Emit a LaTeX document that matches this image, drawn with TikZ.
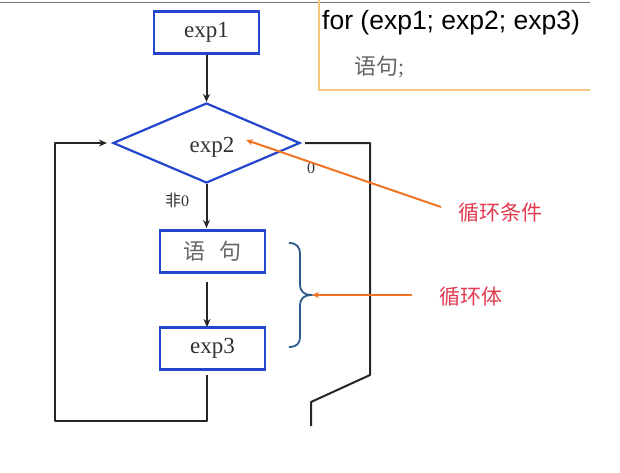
\documentclass[tikz,border=0pt]{standalone}
\usepackage{fontspec}
\setmainfont{Liberation Serif}
\newfontfamily\cjk{Noto Sans CJK SC}
\newfontfamily\arialf{Liberation Sans}
\usetikzlibrary{shapes.geometric,arrows.meta}
\definecolor{boxblue}{RGB}{35,70,205}
\definecolor{braceblue}{RGB}{45,90,140}
\definecolor{arrorange}{RGB}{240,115,35}
\definecolor{labred}{RGB}{225,60,80}
\definecolor{txtgray}{RGB}{50,50,50}
\definecolor{boxorange}{RGB}{245,200,130}
\tikzset{
  flowbox/.style={draw=boxblue,line width=2.2pt,minimum width=105pt,minimum height=42pt,inner sep=0pt,text=txtgray,font=\fontsize{23}{24}\selectfont},
  decision/.style={draw=boxblue,line width=2.2pt,shape=diamond,minimum width=187pt,minimum height=80pt,inner sep=0pt,text=txtgray},
  conn/.style={draw=black!85,line width=2pt},
  arr/.style={conn,-{Stealth[length=8pt,width=7pt]}},
  oarr/.style={draw=arrorange,line width=2pt,-{Stealth[length=7pt,width=6pt]}},
  redlab/.style={text=labred,font=\cjk\fontsize{21}{24}\selectfont,inner sep=0pt},
  small/.style={text=txtgray,font=\fontsize{16}{18}\selectfont,inner sep=0pt}
}
\begin{document}
\begin{tikzpicture}[x=1pt,y=-1pt]
\useasboundingbox (0,0) rectangle (620,472);
% top rule and code box
\draw[black!55,line width=1pt] (0,2) -- (590,2);
\draw[boxorange,line width=1.2pt] (319,0) -- (319,90) -- (590,90);
\node[anchor=west,inner sep=0pt,font=\arialf\fontsize{26.5}{28}\selectfont] (code1) at (322,23) {for (exp1; exp2; exp3)};
\node[anchor=west,inner sep=0pt,text=black!60,font=\fontsize{22}{24}\selectfont] (code2) at (354,67) {{\cjk 语句};};
% flowchart
\node[flowbox] (e1) at (206.5,32.5) {exp1};
\node[decision] (d) at (206.5,143) {};
\node[text=txtgray,font=\fontsize{23}{24}\selectfont,inner sep=0pt] (d2) at (212,147) {exp2};
\node[flowbox,text=black!60,font=\cjk\fontsize{22}{24}\selectfont] (s) at (212.5,251.5) {语\hspace{0.6em}句};
\node[flowbox] (e3) at (212.5,348.5) {exp3};
\draw[arr] (e1.south) -- (d.north);
\coordinate (a1) at (206.5,183);
\coordinate (a2) at (206.5,228);
\draw[arr] (d.south) -- (a2);
\coordinate (m1) at (207,282);
\coordinate (m2) at (207,327);
\draw[arr] (m1) -- (m2);
\coordinate (lb1) at (207,375);
\coordinate (lb2) at (207,421);
\coordinate (lb3) at (55,421);
\coordinate (lb4) at (55,143);
\draw[arr,shorten >=5pt,line join=round] (lb1) -- (lb2) -- (lb3) -- (lb4) -- (d.west);
\coordinate (rb1) at (305,143);
\coordinate (rb2) at (370,143);
\coordinate (rb3) at (370,375);
\coordinate (rb4) at (311,402);
\coordinate (rb5) at (311,426);
\draw[conn,line join=round] (rb1) -- (rb2) -- (rb3) -- (rb4) -- (rb5);
\node[small] (zero) at (311,168) {0};
\node[small] (nz) at (177,200) {{\cjk 非}0};
% brace
\draw[braceblue,line width=1.8pt] (289,243) .. controls (297,243) and (300,247) .. (300,255) -- (300,285) .. controls (300,291) and (304,295) .. (311,295) .. controls (304,295) and (300,299) .. (300,305) -- (300,337) .. controls (300,343) and (297,347) .. (289,347);
\coordinate (btip) at (312,295);
% labels
\node[redlab] (cond) at (500,213) {循环条件};
\node[redlab] (body) at (471,297) {循环体};
\coordinate (c1) at (441,207);
\coordinate (c2) at (246,140);
\draw[oarr] (c1) -- (c2);
\coordinate (b1) at (412,295);
\draw[oarr] (b1) -- (btip);
\end{tikzpicture}
\end{document}
